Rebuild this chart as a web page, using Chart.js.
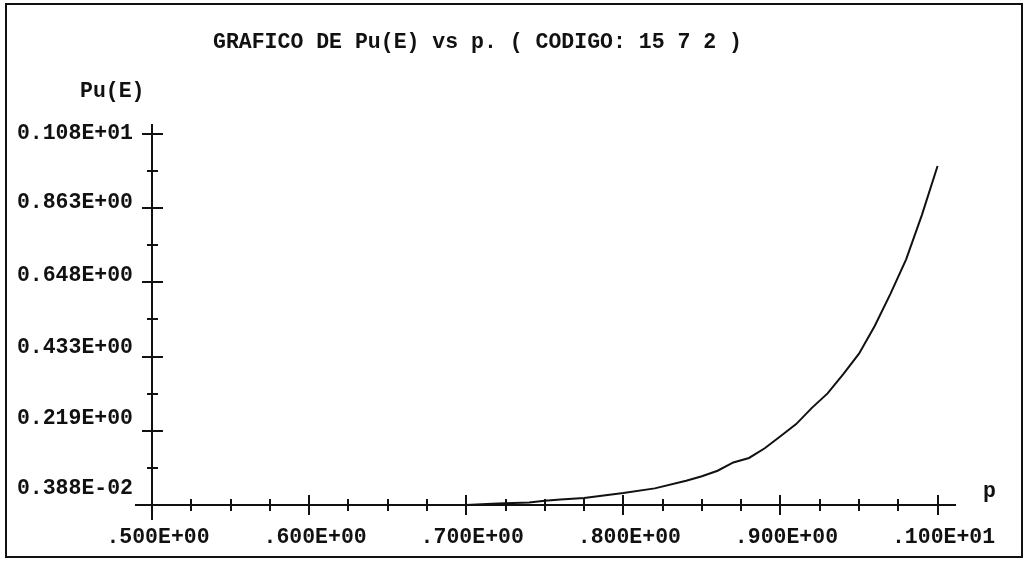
<!DOCTYPE html>
<html>
<head>
<meta charset="utf-8">
<script src="https://cdn.jsdelivr.net/npm/chart.js@4.4.1/dist/chart.umd.min.js"></script>
<style>
  html, body { margin: 0; padding: 0; background: #fff; overflow: hidden; }
  #wrap { position: relative; width: 1025px; height: 565px; }
</style>
</head>
<body>
<div id="wrap"><canvas id="chart"></canvas></div>
<script>
// Probability Pu(E) against p for the (15,7,2) code
const pValues  = [0.70, 0.72, 0.74, 0.75, 0.76, 0.775, 0.79, 0.80, 0.82, 0.84, 0.85, 0.86, 0.87,
                  0.88, 0.89, 0.90, 0.91, 0.92, 0.93, 0.94, 0.95, 0.96, 0.97, 0.98, 0.99, 1.00];
const puValues = [0.0039, 0.008, 0.011, 0.016, 0.020, 0.024, 0.033, 0.0386, 0.052, 0.074, 0.087, 0.103, 0.127,
                  0.140, 0.168, 0.203, 0.238, 0.285, 0.327, 0.383, 0.442, 0.522, 0.615, 0.715, 0.843, 0.985];

// Axis ticks: x every 0.025 (labelled every 0.1), y every half step (labelled every full step)
const xTickValues = [0.5, 0.525, 0.55, 0.575, 0.6, 0.625, 0.65, 0.675, 0.7, 0.725, 0.75,
                     0.775, 0.8, 0.825, 0.85, 0.875, 0.9, 0.925, 0.95, 0.975, 1.0];
const xTickLabels = ['.500E+00', '.600E+00', '.700E+00', '.800E+00', '.900E+00', '.100E+01'];
const yTickValues = [0.00388, 0.11127, 0.21866, 0.32605, 0.43344, 0.54083, 0.64822,
                     0.75561, 0.863, 0.97039, 1.07778];
const yTickLabels = ['0.388E-02', '0.219E+00', '0.433E+00', '0.648E+00', '0.863E+00', '0.108E+01'];

const titleText = 'GRAFICO DE Pu(E) vs p. ( CODIGO: 15 7 2 )';
const yAxisName = 'Pu(E)';
const xAxisName = 'p';

// styling
const INK = '#111';
const FONT_FAMILY = '"Liberation Mono", "Courier New", monospace';
const FONT_SIZE = 21.5;
const yLabelRaise = [16, 12.5, 9.5, 7, 5.5, 0];   // labels sit slightly above their ticks

const captions = {
  id: 'captions',
  beforeDraw(chart) {
    const { ctx, width, height } = chart;
    ctx.save();
    ctx.fillStyle = '#fff';
    ctx.fillRect(0, 0, width, height);
    ctx.strokeStyle = INK;
    ctx.lineWidth = 2;
    ctx.strokeRect(6, 4, 1016, 553);
    ctx.restore();
  },
  afterDraw(chart) {
    const { ctx, chartArea } = chart;
    ctx.save();
    ctx.fillStyle = INK;
    ctx.font = `bold ${FONT_SIZE}px ${FONT_FAMILY}`;
    ctx.textAlign = 'left';
    ctx.textBaseline = 'alphabetic';
    ctx.fillText(titleText, 213, 48);
    ctx.fillText(yAxisName, chartArea.left - 72, chartArea.top - 28);
    ctx.fillText(xAxisName, chartArea.right + 28, chartArea.bottom - 8);
    ctx.restore();
  }
};

const xIsMajor = i => i % 4 === 0;
const yIsMajor = i => i % 2 === 0;

new Chart(document.getElementById('chart'), {
  type: 'line',
  data: {
    datasets: [{
      data: pValues.map((p, i) => ({ x: p, y: puValues[i] })),
      borderColor: INK,
      borderWidth: 2,
      pointRadius: 0,
      tension: 0,
      fill: false
    }]
  },
  options: {
    responsive: true,
    maintainAspectRatio: false,
    animation: false,
    devicePixelRatio: 1,
    layout: { padding: { left: 6, right: 70, top: 125, bottom: 10 } },
    plugins: { legend: { display: false }, title: { display: false }, tooltip: { enabled: false } },
    scales: {
      x: {
        type: 'linear',
        position: 'bottom',
        min: 0.5,
        max: 1.0111,
        afterBuildTicks: s => { s.ticks = xTickValues.map(v => ({ value: v })); },
        afterFit: s => { s.height = 50; },
        border: {
          display: true, color: INK, width: 2,
          dash: ctx => {
            const a = ctx.chart.chartArea;
            const L = a ? a.bottom - a.top - 1 : 380;
            const len = xIsMajor(ctx.index) ? 9 : 5;
            return [0, L - len, len, 3000];
          }
        },
        grid: {
          drawOnChartArea: true,
          color: ctx => ctx.index === 0 ? 'rgba(0,0,0,0)' : INK,
          lineWidth: 2,
          drawTicks: true,
          tickLength: 15,
          tickWidth: 2,
          tickColor: INK,
          tickBorderDash: ctx => ctx.index === 0 ? [15, 100] : (xIsMajor(ctx.index) ? [9, 100] : [5, 100])
        },
        ticks: {
          autoSkip: false,
          maxRotation: 0,
          minRotation: 0,
          padding: 5,
          labelOffset: 6,
          color: INK,
          font: { family: FONT_FAMILY, size: FONT_SIZE, weight: 'bold' },
          callback: (v, i) => xIsMajor(i) ? xTickLabels[i / 4] : ''
        }
      },
      y: {
        type: 'linear',
        position: 'left',
        min: 0.00388,
        max: 1.1038,
        afterBuildTicks: s => { s.ticks = yTickValues.map(v => ({ value: v })); },
        afterFit: s => { s.width = 146; },
        border: {
          display: true, color: INK, width: 2,
          dash: ctx => yIsMajor(ctx.index) ? [10, 3000] : [5, 3000]
        },
        grid: {
          drawOnChartArea: true,
          color: ctx => ctx.index === 0 ? 'rgba(0,0,0,0)' : INK,
          lineWidth: 2,
          drawTicks: true,
          tickLength: 17,
          tickWidth: 2,
          tickColor: INK,
          // outward marks are stroked from their far end toward the axis
          tickBorderDash: ctx => ctx.index === 0 ? [17, 100] : (yIsMajor(ctx.index) ? [0, 7, 10, 100] : [0, 12, 5, 100])
        },
        ticks: {
          autoSkip: false,
          padding: 2,
          color: INK,
          font: ctx => {
            const k = ctx.index / 2;
            const raise = yIsMajor(ctx.index) ? yLabelRaise[k] : 0;
            return { family: FONT_FAMILY, size: FONT_SIZE, weight: 'bold',
                     lineHeight: raise > 0 ? (2 * raise) + 'px' : 1.2 };
          },
          callback: (v, i) => {
            if (!yIsMajor(i)) return '';
            const k = i / 2;
            return yLabelRaise[k] > 0 ? [yTickLabels[k], ''] : yTickLabels[k];
          }
        }
      }
    }
  },
  plugins: [captions]
});
</script>
</body>
</html>
